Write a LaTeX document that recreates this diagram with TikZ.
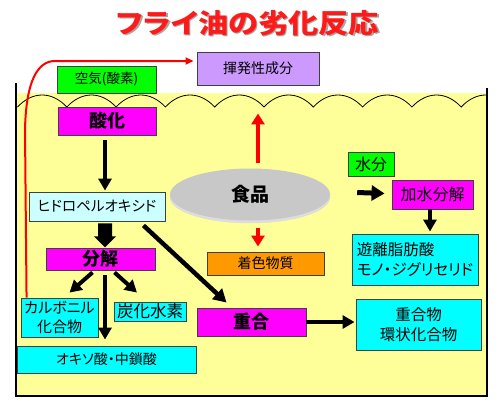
\documentclass[tikz,border=0pt]{standalone}
\usepackage{fontspec}
\setmainfont{Noto Sans CJK JP}[RawFeature=+palt]
\usetikzlibrary{arrows.meta,shapes.geometric,calc}
\definecolor{cmag}{HTML}{FF00FF}
\definecolor{ccyan}{HTML}{00FFFF}
\definecolor{clcyan}{HTML}{CCFFFF}
\definecolor{cgreen}{HTML}{00FF00}
\definecolor{clav}{HTML}{CC99FF}
\definecolor{corange}{HTML}{FF9900}
\definecolor{coil}{HTML}{FFFF99}
\definecolor{cfood}{HTML}{C8C8C8}
\definecolor{crim}{HTML}{DEDEDE}
\definecolor{ctitle}{HTML}{FF1A1A}
\newcommand{\fs}[1]{\fontsize{#1}{1.25\dimexpr#1pt\relax}\selectfont}
\begin{document}
\begin{tikzpicture}[x=1pt,y=-1pt,
  box/.style={draw=black!75, line width=0.9pt, inner sep=0pt, align=center, font=\fs{13}},
  blk/.style={line width=4pt, -{Triangle[length=12pt,width=13pt]}},
  redarr/.style={draw=red, line width=4pt, -{Triangle[length=11pt,width=13pt]}}]
\useasboundingbox (0,0) rectangle (500,402);
\fill[white] (0,0) rectangle (500,402);
% title
\node[font=\fs{27}\bfseries, text=black!35, xscale=1.12] (tshadow) at (249.5,24.5) {フライ油の劣化反応};
\node[font=\fs{27}\bfseries, text=ctitle, xscale=1.12] (title) at (248,23) {フライ油の劣化反応};
% oil
\fill[coil] (16,93) rectangle (487,396);
\begin{scope}
\clip (16,80) rectangle (487,120);
\draw[line width=0.8pt] (17.5,107) \foreach \i in {0,...,9} { .. controls +(15,-16) and +(-15,-16) .. ++(49.3,0) };
\end{scope}
\draw[line width=1.8pt] (16,83) -- (16,396) -- (487,396) -- (487,88);
% boxes
\node[box, fill=clav, minimum width=122, minimum height=33, font=\fs{14}] (kihatsu) at (258,68.5) {揮発性成分};
\node[box, fill=cgreen, minimum width=99, minimum height=27, font=\fs{13.5}] (kuuki) at (106.5,79.5) {空気(酸素)};
\node[box, fill=cmag, minimum width=98, minimum height=28, font=\fs{18}\bfseries] (sanka) at (107,121) {酸化};
\node[box, fill=clcyan, minimum width=136, minimum height=29, font=\fs{14.5}] (hydro) at (97,206.5) {ヒドロペルオキシド};
\node[box, fill=cmag, minimum width=109, minimum height=22, font=\fs{18}\bfseries] (bunkai) at (100.5,259) {分解};
\node[box, fill=ccyan, minimum width=77, minimum height=39, font=\fs{15}] (carbonyl) at (59.5,317.5) {カルボニル\\化合物};
\node[box, fill=ccyan, minimum width=72, minimum height=19, font=\fs{16.5}] (tanka) at (150,311.5) {炭化水素};
\node[box, fill=ccyan, minimum width=179, minimum height=27, font=\fs{14}] (oxo) at (106.5,359.5) {オキソ酸・中鎖酸};
\node[ellipse, fill=crim, draw=black!15, line width=0.4pt, minimum width=160, minimum height=52, inner sep=0pt] (rim) at (250,197) {};
\node[ellipse, fill=cfood, minimum width=160, minimum height=52, inner sep=0pt, font=\fs{19}\bfseries] (shoku) at (250,194.5) {食品};
\node[box, fill=corange, minimum width=117, minimum height=23, font=\fs{14}] (chaku) at (265.5,263.5) {着色物質};
\node[box, fill=cgreen, minimum width=46, minimum height=24, font=\fs{16}] (suibun) at (371,164) {水分};
\node[box, fill=cmag, minimum width=81, minimum height=29, font=\fs{16}] (kasui) at (432.5,194.5) {加水分解};
\node[box, fill=ccyan, minimum width=126, minimum height=51, font=\fs{15.5}, align=left] (yuuri) at (415,259.5) {遊離脂肪酸\\モノ・ジグリセリド};
\node[box, fill=cmag, minimum width=109, minimum height=28, font=\fs{18}\bfseries] (jugo) at (251.5,322) {重合};
\node[box, fill=ccyan, minimum width=125, minimum height=51, font=\fs{15.5}] (jugobutsu) at (418.5,324.5) {重合物\\環状化合物};
% red connector to volatile
\draw[red, line width=2pt, -{Triangle[length=8pt,width=7pt]}] ($(carbonyl.north west)+(6,0)$) -- (25,130) .. controls (26,80) and (38,61) .. (55,61) -- ($(kihatsu.west)+(-3,-7.5)$);
% arrows
\draw[blk] ($(sanka.south)+(-2,5)$) -- ($(hydro.north)+(8,-1)$);
\fill ($(hydro.south)+(1,2)$) -- ++(14,0) -- ++(0,13) -- ++(4,0) -- ++(-11,11) -- ++(-11,-11) -- ++(4,0) -- cycle;
\draw[blk, line width=4.5pt, -{Triangle[length=13pt,width=14pt]}] ($(hydro.south east)+(-22,4)$) -- ($(jugo.north west)+(30,-5)$);
\draw[blk] ($(bunkai.south)+(-8,2)$) -- ($(carbonyl.north)+(10,-5)$);
\draw[blk] ($(bunkai.south)+(14,2)$) -- ($(tanka.north)+(-13,-9)$);
\draw[blk] ($(bunkai.south)+(4.5,5)$) -- ($(oxo.north)+(-1.5,-6)$);
\draw[redarr] ($(shoku.north)+(8,-5)$) -- ($(kihatsu.south)+(0,28)$);
\draw[redarr] ($(rim.south)+(8,5)$) -- ($(chaku.north)+(-7.5,-5)$);
\draw[blk, line width=5pt, -{Triangle[length=13pt,width=15pt]}] ($(shoku.east)+(27,-2)$) -- ($(kasui.west)+(-7,-1)$);
\draw[blk] ($(kasui.south)+(-2.5,0)$) -- ($(yuuri.north)+(15,-2)$);
\draw[blk, line width=4.5pt] (jugo.east) -- ($(jugobutsu.west)+(-1,-2.5)$);
\end{tikzpicture}
\end{document}
